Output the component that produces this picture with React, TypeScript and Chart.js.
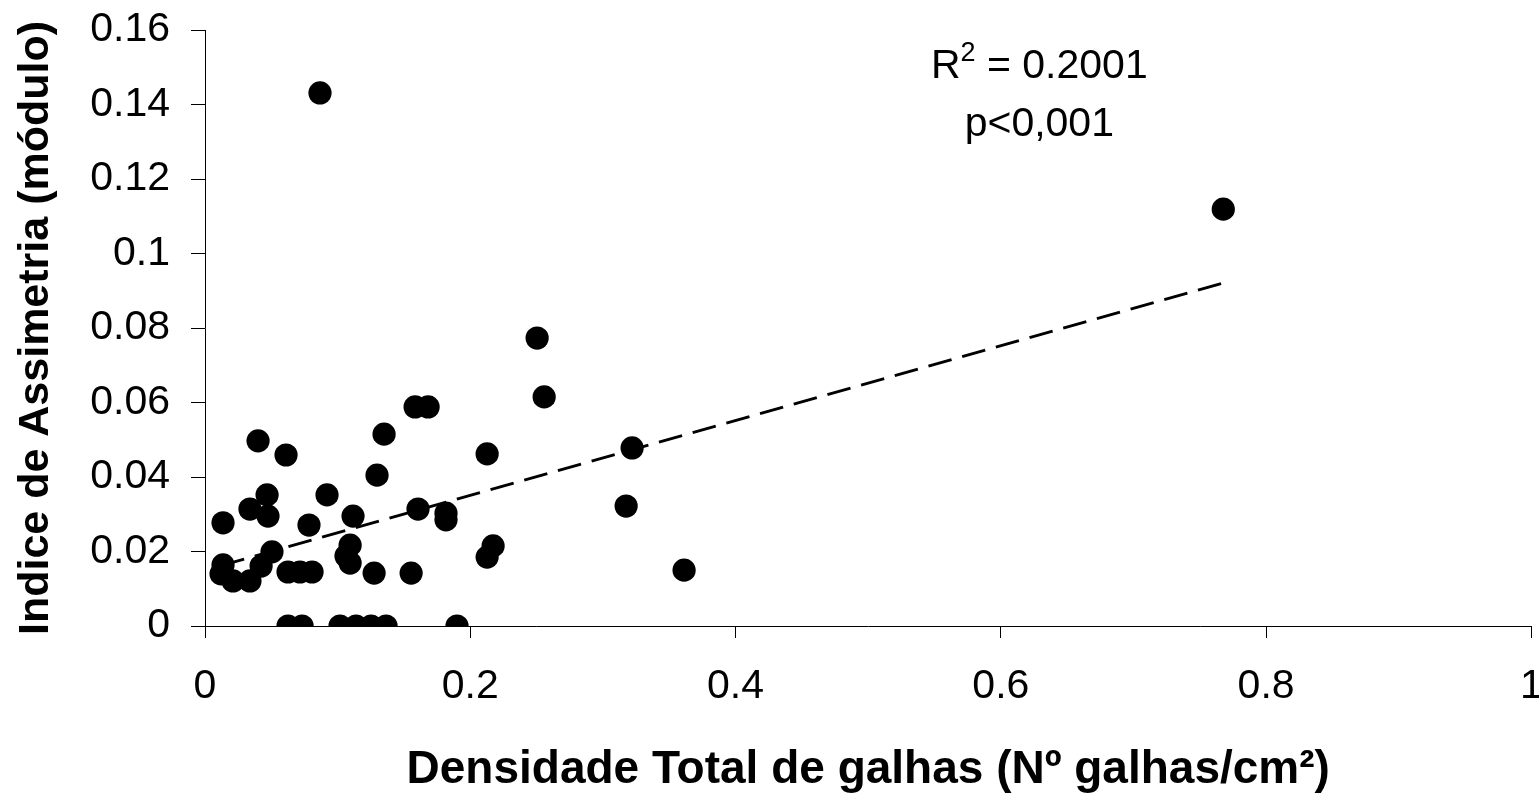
import React, { useEffect, useRef } from "react";
import { Chart, registerables } from "chart.js";

Chart.register(...registerables);

// Densidade Total de galhas (x) and Indice de Assimetria (y)
const xValues = [
  0.0867, 0.7677, 0.2504, 0.2557, 0.322, 0.3175, 0.3612,
  0.2127, 0.2127, 0.2172,
  0.1584, 0.1682, 0.135, 0.1297, 0.1606, 0.1817, 0.1817,
  0.1116, 0.1094, 0.1063, 0.1094, 0.1275, 0.1554,
  0.092, 0.0784, 0.0611, 0.04, 0.0339, 0.0468, 0.0475,
  0.0505, 0.0423, 0.0339, 0.0211, 0.0121, 0.0136, 0.0136,
  0.0626, 0.0716, 0.0807,
  0.0626, 0.0732, 0.1018, 0.1139, 0.1252, 0.1365, 0.19,
];
const yValues = [
  0.1431, 0.1119, 0.0773, 0.0615, 0.0478, 0.0322, 0.015,
  0.0462, 0.0185, 0.0215,
  0.0588, 0.0588, 0.0515, 0.0405, 0.0314, 0.0303, 0.0285,
  0.0295, 0.0217, 0.0188, 0.0169, 0.0142, 0.0142,
  0.0352, 0.0271, 0.0459, 0.0497, 0.0314, 0.0352, 0.0295,
  0.0199, 0.0161, 0.0121, 0.0121, 0.0140, 0.0164, 0.0277,
  0.0145, 0.0145, 0.0145,
  0, 0, 0, 0, 0, 0, 0,
];

// linear trend line endpoints (as drawn in the reference)
const trendX = [0.0121, 0.768];
const trendY = [0.0162, 0.0921];

const xTickLabels = ["0", "0.2", "0.4", "0.6", "0.8", "1"];
const yTickLabels = ["0", "0.02", "0.04", "0.06", "0.08", "0.1", "0.12", "0.14", "0.16"];

const xTitle = "Densidade Total de galhas (Nº galhas/cm²)";
const yTitle = "Indice de Assimetria (módulo)";
const annotR2 = "0.2001";
const annotP = "p<0,001";

const FONT = "'Liberation Sans', Arial, Helvetica, sans-serif";

const annotationPlugin = {
  id: "r2annot",
  afterDatasetsDraw(chart: any) {
    const ctx = chart.ctx;
    const xs = chart.scales.x;
    const ys = chart.scales.y;
    const cx = xs.getPixelForValue(0.629);
    const b1 = ys.getPixelForValue(0.1471);
    const b2 = ys.getPixelForValue(0.1316);
    ctx.save();
    ctx.fillStyle = "#000";
    ctx.textBaseline = "alphabetic";
    ctx.textAlign = "left";
    const big = `41px ${FONT}`;
    const small = `27px ${FONT}`;
    ctx.font = big;
    const wR = ctx.measureText("R").width;
    const rest = " = " + annotR2;
    const wRest = ctx.measureText(rest).width;
    ctx.font = small;
    const w2 = ctx.measureText("2").width;
    const total = wR + w2 + wRest;
    let x = cx - total / 2;
    ctx.font = big;
    ctx.fillText("R", x, b1);
    x += wR;
    ctx.font = small;
    ctx.fillText("2", x, b1 - 17);
    x += w2;
    ctx.font = big;
    ctx.fillText(rest, x, b1);
    ctx.textAlign = "center";
    ctx.fillText(annotP, cx, b2);
    ctx.restore();
  },
};

export default function App() {
  const ref = useRef<HTMLCanvasElement | null>(null);

  useEffect(() => {
    document.body.style.margin = "0";
    const canvas = ref.current;
    if (!canvas) return;
    const points = xValues.map((x, i) => ({ x, y: yValues[i] }));
    const trend = trendX.map((x, i) => ({ x, y: trendY[i] }));
    const chart = new Chart(canvas, {
      type: "scatter",
      data: {
        datasets: [
          {
            type: "scatter",
            data: points,
            backgroundColor: "#000",
            borderColor: "#000",
            borderWidth: 0,
            pointRadius: 11.6,
            pointHoverRadius: 11.6,
          } as any,
          {
            type: "line",
            data: trend,
            borderColor: "#000",
            borderWidth: 3,
            borderDash: [24, 11],
            pointRadius: 0,
            fill: false,
            showLine: true,
          } as any,
        ],
      },
      options: {
        animation: false,
        responsive: false,
        devicePixelRatio: 1,
        events: [],
        layout: { padding: { top: 30, right: 4, left: 0, bottom: 0 } },
        plugins: {
          legend: { display: false },
          tooltip: { enabled: false },
        },
        scales: {
          x: {
            type: "linear",
            min: 0,
            max: 1,
            afterFit: (s: any) => {
              s.height = 167;
              s.paddingLeft = 0;
              s.paddingRight = 0;
            },
            ticks: {
              stepSize: 0.2,
              color: "#000",
              padding: 24,
              font: { family: FONT, size: 41 },
              callback: (_v: any, i: number) => xTickLabels[i],
            },
            grid: {
              drawOnChartArea: false,
              drawTicks: true,
              tickLength: 12,
              color: "#000",
              lineWidth: 1,
            },
            border: { display: true, color: "#000", width: 1 },
            title: {
              display: true,
              text: xTitle,
              color: "#000",
              font: { family: FONT, size: 46, weight: "bold", lineHeight: 1 },
              padding: { top: 0, bottom: 0 },
            },
          },
          y: {
            type: "linear",
            min: 0,
            max: 0.16,
            afterFit: (s: any) => {
              s.width = 205;
              s.paddingTop = 0;
              s.paddingBottom = 0;
            },
            ticks: {
              stepSize: 0.02,
              color: "#000",
              padding: 21,
              font: { family: FONT, size: 41 },
              callback: (_v: any, i: number) => yTickLabels[i],
            },
            grid: {
              drawOnChartArea: false,
              drawTicks: true,
              tickLength: 14,
              color: "#000",
              lineWidth: 1,
            },
            border: { display: true, color: "#000", width: 1 },
            title: {
              display: true,
              text: yTitle,
              color: "#000",
              font: { family: FONT, size: 43, weight: "bold", lineHeight: 1 },
              padding: { top: 15, bottom: 0 },
            },
          },
        },
      } as any,
      plugins: [annotationPlugin],
    });
    return () => chart.destroy();
  }, []);

  return (
    <div
      style={{
        position: "fixed",
        left: 0,
        top: 0,
        width: 1539,
        height: 793,
        overflow: "hidden",
        background: "#fff",
      }}
    >
      <canvas ref={ref} width={1543} height={793} style={{ display: "block" }} />
    </div>
  );
}
